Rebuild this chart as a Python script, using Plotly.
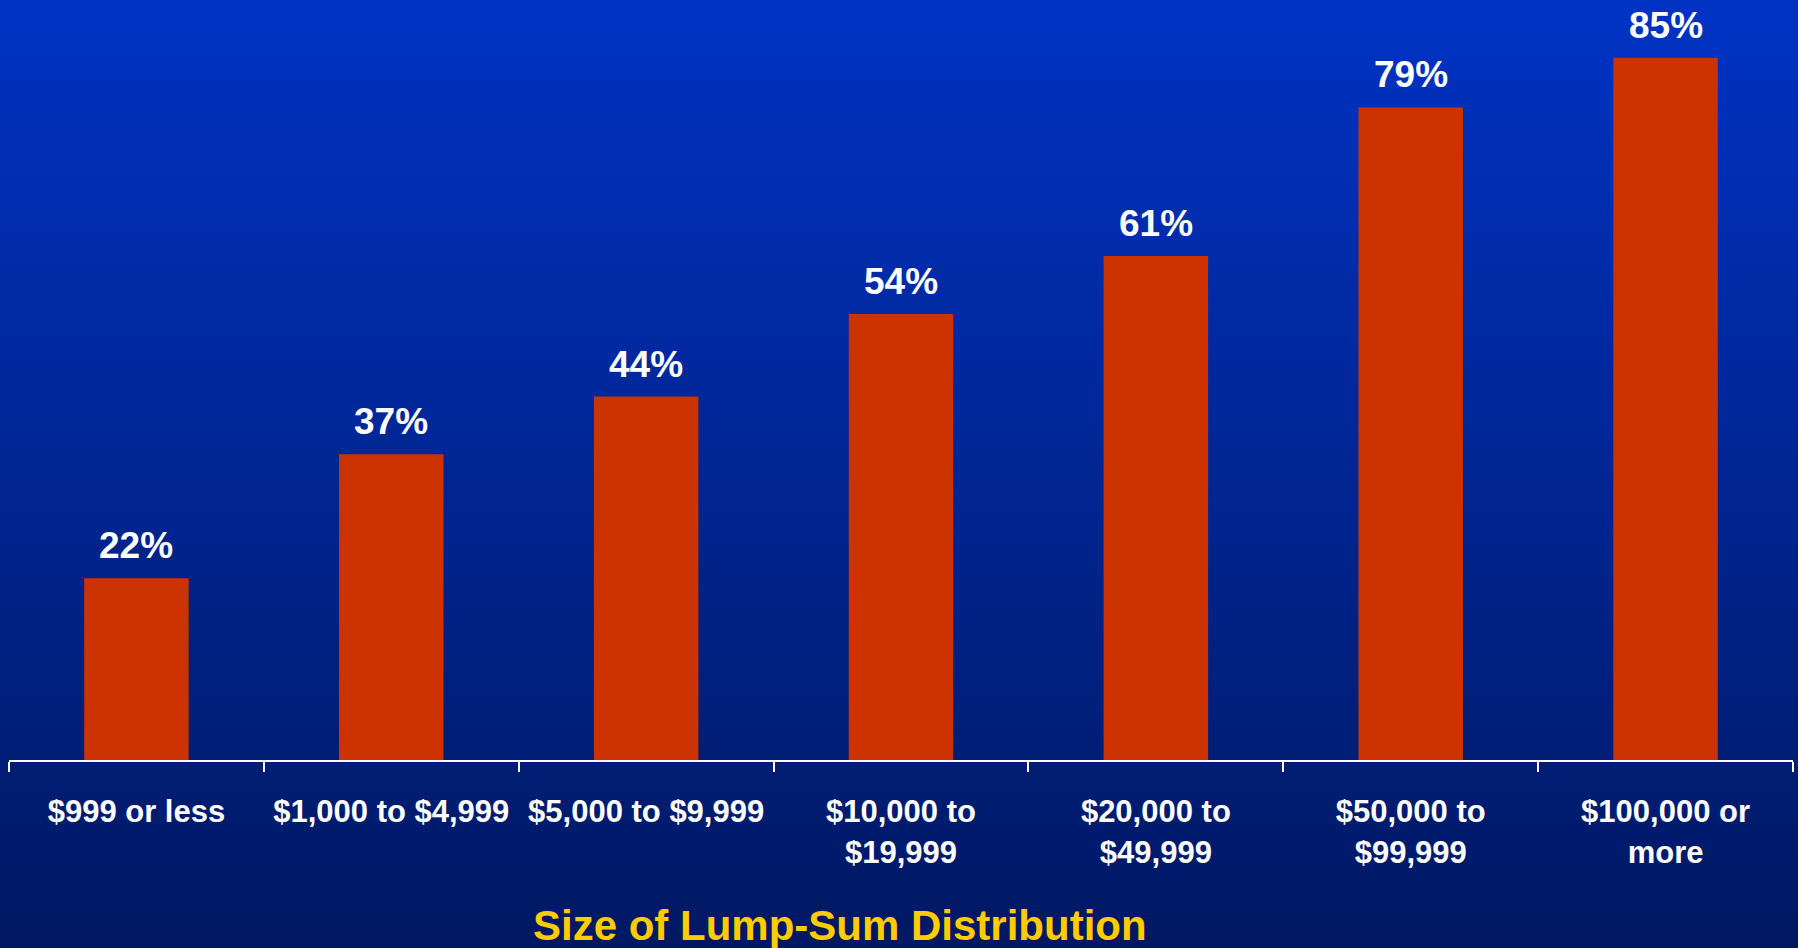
import base64
import plotly.graph_objects as go

# Share of lump-sum distributions, by size of distribution
categories = [
    "$999 or less",
    "$1,000 to $4,999",
    "$5,000 to $9,999",
    "$10,000 to<br>$19,999",
    "$20,000 to<br>$49,999",
    "$50,000 to<br>$99,999",
    "$100,000 or<br>more",
]
shares = [22, 37, 44, 54, 61, 79, 85]
value_labels = [f"{v}%" for v in shares]
axis_title = "Size of Lump-Sum Distribution"

W, H = 1798, 948
ML, MR, MT, MB = 9, 5, 0, 188
plot_w = W - ML - MR
plot_h = H - MT - MB

FONT = "Arial, Liberation Sans, sans-serif"
BAR = "#CC3300"

# vertical blue gradient used as the slide background
svg = (
    '<svg xmlns="http://www.w3.org/2000/svg" width="100" height="100" '
    'preserveAspectRatio="none" viewBox="0 0 100 100">'
    '<defs><linearGradient id="g" x1="0" y1="0" x2="0" y2="1">'
    '<stop offset="0" stop-color="#0033C4"/>'
    '<stop offset="1" stop-color="#001862"/>'
    '</linearGradient></defs>'
    '<rect width="100" height="100" fill="url(#g)"/></svg>'
)
bg_src = "data:image/svg+xml;base64," + base64.b64encode(svg.encode()).decode()

fig = go.Figure(
    go.Bar(
        x=categories,
        y=shares,
        marker=dict(color=BAR, line=dict(width=0)),
        hoverinfo="skip",
    )
)

for cat, v, lab in zip(categories, shares, value_labels):
    fig.add_annotation(
        x=cat, y=v, text=lab, showarrow=False,
        xanchor="center", yanchor="bottom", yshift=10,
        font=dict(family=FONT, size=37, color="white", weight="bold"),
    )

fig.add_annotation(
    xref="paper", yref="paper",
    x=(840 - ML) / plot_w, y=-(925 - (H - MB)) / plot_h,
    xanchor="center", yanchor="middle", showarrow=False,
    text=axis_title,
    font=dict(family=FONT, size=42, color="#FFCC00", weight="bold"),
)

fig.add_layout_image(
    source=bg_src, xref="paper", yref="paper",
    x=-ML / plot_w, y=1 + MT / plot_h,
    sizex=W / plot_w, sizey=H / plot_h,
    xanchor="left", yanchor="top", sizing="stretch", layer="below",
)

fig.update_layout(
    width=W, height=H,
    margin=dict(l=ML, r=MR, t=MT, b=MB, pad=0),
    paper_bgcolor="#001A6A",
    plot_bgcolor="rgba(0,0,0,0)",
    bargap=0.59,
    showlegend=False,
    xaxis=dict(
        type="category",
        showline=True, linecolor="white", linewidth=2,
        ticks="outside", tickson="boundaries", ticklen=10,
        tickcolor="white", tickwidth=2,
        tickfont=dict(family=FONT, size=31, color="white", weight="bold"),
        ticklabelstandoff=23,
        showgrid=False, zeroline=False,
    ),
    yaxis=dict(
        range=[0, 92], visible=False, showgrid=False, zeroline=False,
    ),
)

fig.write_html("out.html", config={"displayModeBar": False})
